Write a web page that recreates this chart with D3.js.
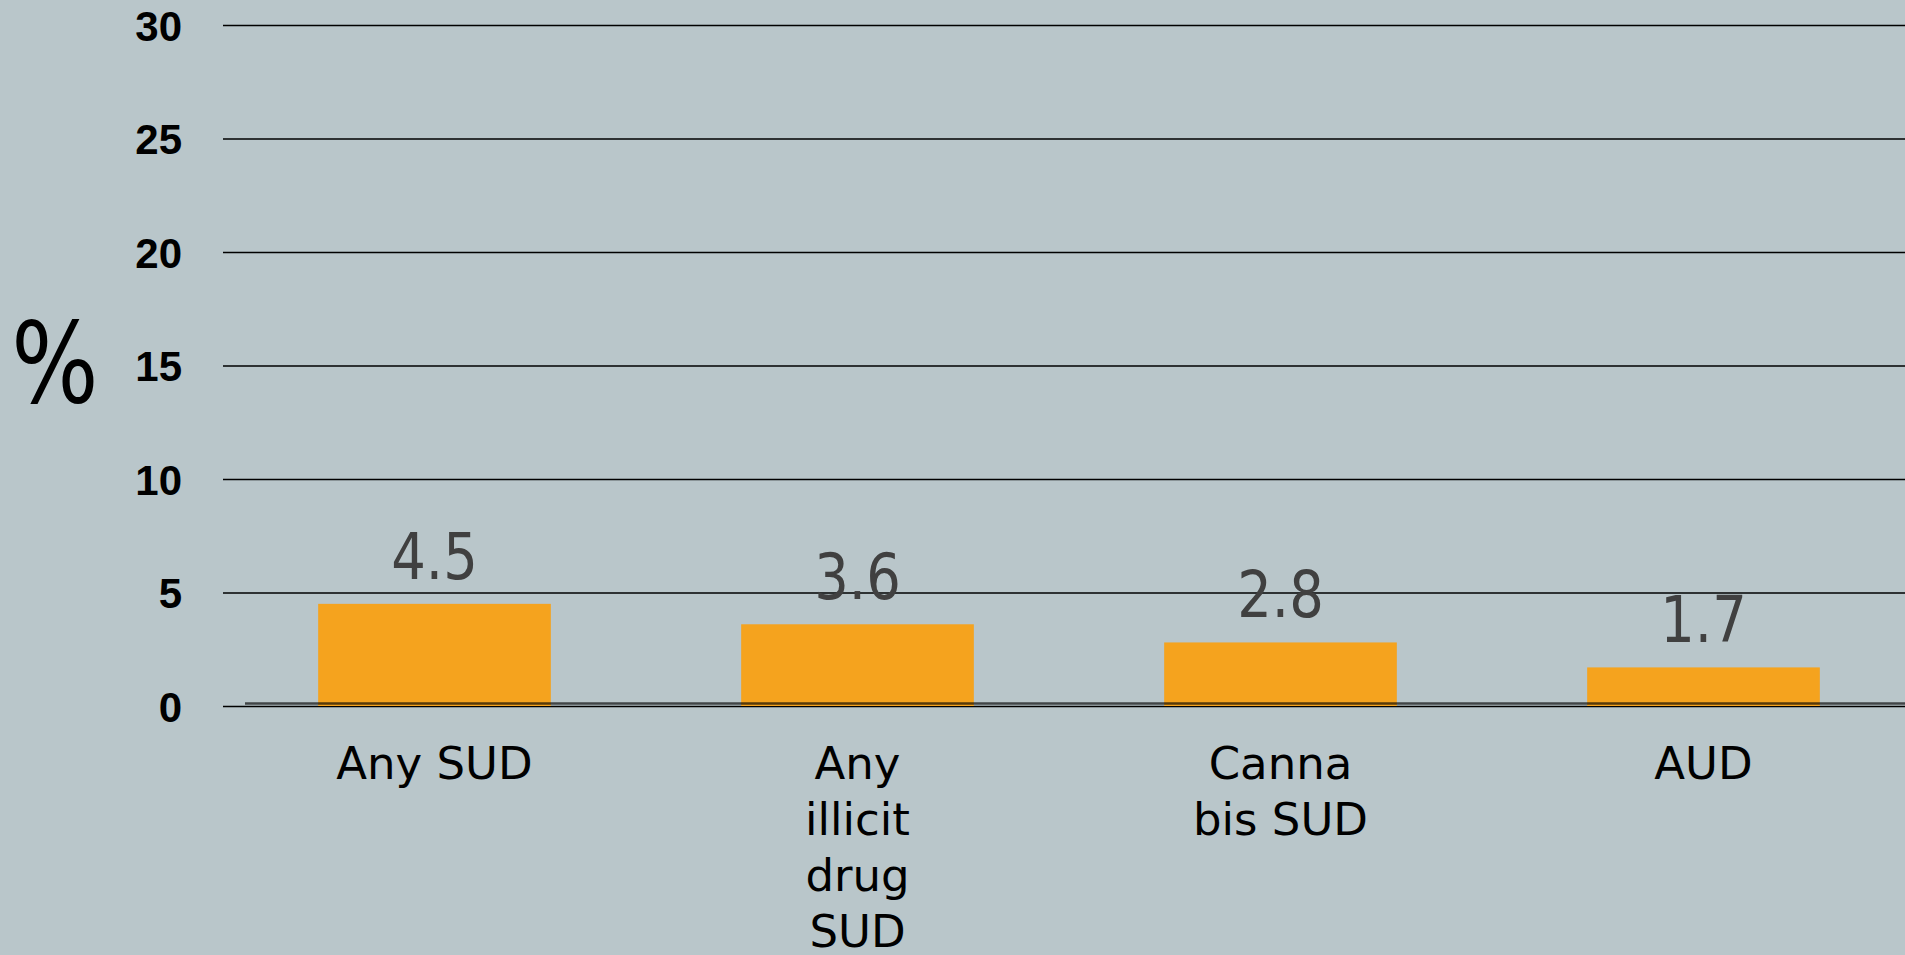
<!DOCTYPE html>
<html>
<head>
<meta charset="utf-8">
<script src="https://cdn.jsdelivr.net/npm/d3@7"></script>
<style>
  html, body { margin: 0; padding: 0; background: #b9c6ca; overflow: hidden; }
  svg { display: block; }
</style>
</head>
<body>
<script>
// data
var categories = ["Any SUD", "Any illicit drug SUD", "Cannabis SUD", "AUD"];
var tickLines = [["Any SUD"], ["Any", "illicit", "drug", "SUD"], ["Canna", "bis SUD"], ["AUD"]];
var values = [4.5, 3.6, 2.8, 1.7];
var valueLabels = ["4.5", "3.6", "2.8", "1.7"];
var yTicks = [0, 5, 10, 15, 20, 25, 30];

var W = 1905, H = 955;
var left = 223, right = W;

var svg = d3.select("body").append("svg")
    .attr("width", W)
    .attr("height", H);

var x = d3.scaleBand()
    .domain(categories)
    .range([left, 1915])
    .paddingInner(0.45)
    .paddingOuter(0.225);

var y = d3.scaleLinear()
    .domain([0, 30])
    .range([706, 25]);

// gridlines + tick labels
var yAxis = svg.append("g")
    .attr("transform", "translate(" + left + ",0)")
    .call(d3.axisLeft(y).tickValues(yTicks).tickSize(-(right - left)).tickPadding(41));
yAxis.select(".domain").remove();
yAxis.selectAll(".tick line")
    .attr("stroke", "#000")
    .attr("stroke-width", 1.6);
yAxis.selectAll(".tick text")
    .attr("fill", "#000")
    .attr("dy", "0.36em")
    .style("font-family", "'Liberation Sans', Arial, sans-serif")
    .style("font-weight", "bold")
    .style("font-size", "42px");

// bars
svg.selectAll(".bar")
    .data(values)
    .enter().append("rect")
    .attr("class", "bar")
    .attr("x", function(d, i) { return x(categories[i]); })
    .attr("width", x.bandwidth())
    .attr("y", function(d) { return y(d); })
    .attr("height", function(d) { return y(0) - y(d); })
    .attr("fill", "#f5a31e");

// zero axis line
svg.append("line")
    .attr("x1", 245).attr("x2", right)
    .attr("y1", y(0) - 2.5).attr("y2", y(0) - 2.5)
    .attr("stroke", "#000")
    .attr("stroke-opacity", 0.65)
    .attr("stroke-width", 2.5);

// value labels
svg.selectAll(".val")
    .data(values)
    .enter().append("text")
    .attr("class", "val")
    .attr("transform", function(d, i) {
        return "translate(" + (x(categories[i]) + x.bandwidth() / 2) + "," + (y(d) - 25) + ") scale(0.85,1)";
    })
    .attr("text-anchor", "middle")
    .attr("fill", "#404040")
    .style("font-family", "'DejaVu Sans', sans-serif")
    .style("font-size", "64px")
    .text(function(d, i) { return valueLabels[i]; });

// category labels
var xAxis = svg.append("g")
    .attr("transform", "translate(0," + y(0) + ")")
    .call(d3.axisBottom(x).tickSize(0).tickPadding(0));
xAxis.select(".domain").remove();
xAxis.selectAll(".tick text").each(function(d, i) {
    var t = d3.select(this).text(null)
        .attr("y", 0).attr("dy", null)
        .attr("fill", "#000")
        .style("font-family", "'DejaVu Sans', sans-serif")
        .style("font-size", "45px");
    tickLines[i].forEach(function(line, j) {
        t.append("tspan")
            .attr("x", 0)
            .attr("y", 73 + j * 56)
            .text(line);
    });
});

// y axis title
svg.append("text")
    .attr("transform", "translate(55,402) scale(0.82,1)")
    .attr("text-anchor", "middle")
    .attr("fill", "#000")
    .style("font-family", "'DejaVu Sans', sans-serif")
    .style("font-size", "112px")
    .text("%");
</script>
</body>
</html>
